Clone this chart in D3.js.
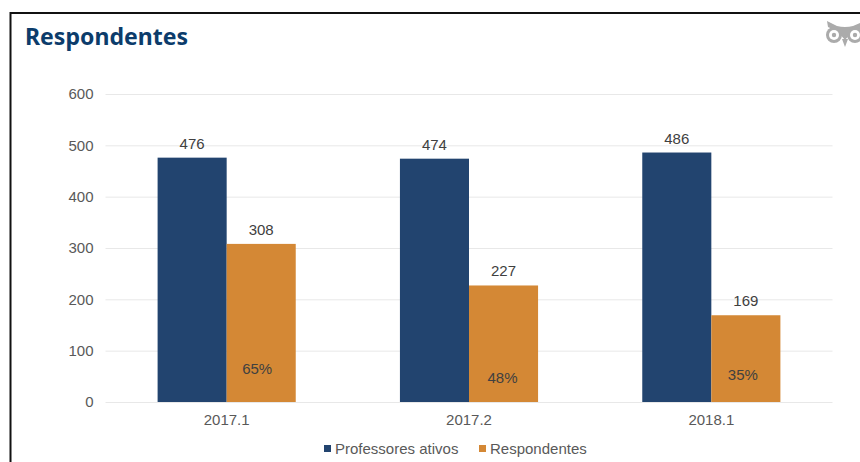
<!DOCTYPE html>
<html lang="pt">
<head>
<meta charset="utf-8">
<title>Respondentes</title>
<script src="https://cdn.jsdelivr.net/npm/d3@7/dist/d3.min.js"></script>
<style>
  html, body { margin: 0; padding: 0; background: #fff; }
  svg { display: block; }
  text { font-family: "Liberation Sans", Arial, sans-serif; }
</style>
</head>
<body>
<svg id="chart" width="860" height="462"></svg>
<script>
const chartTitle = "Respondentes";
const periods = ["2017.1", "2017.2", "2018.1"];
const seriesNames = ["Professores ativos", "Respondentes"];
const activeTeachers = [476, 474, 486];
const respondents = [308, 227, 169];
const shareLabels = ["65%", "48%", "35%"];
const yTicks = [0, 100, 200, 300, 400, 500, 600];

const colors = ["#22446f", "#d48835"];
const inkText = "#595959";
const shareLift = [28, 19, 22];   // height of each share label's baseline above the bar foot
const shareShift = [-4, -1, -3];  // sideways nudge of each share label from the bar centre

const svg = d3.select("#chart");
const margin = { left: 105.5, right: 27.5, top: 94, bottom: 60 };
const width = 860, height = 462;

const x = d3.scaleBand().domain(periods)
  .range([margin.left, width - margin.right]).paddingInner(0.43).paddingOuter(0.215);
const xSeries = d3.scaleBand().domain(seriesNames).range([0, x.bandwidth()]);
const y = d3.scaleLinear().domain([0, 600]).range([height - margin.bottom, margin.top]);

// Panel frame: top and left rules only reach the page edge
svg.append("path")
  .attr("d", d3.line()([[10.5, height], [10.5, 13], [width, 13]]))
  .attr("fill", "none").attr("stroke", "#111").attr("stroke-width", 2);

svg.append("text")
  .attr("x", 25).attr("y", 45)
  .attr("font-size", 24).attr("font-weight", 700)
  .style("font-family", "'Noto Sans', 'Open Sans', sans-serif")
  .attr("textLength", 163).attr("lengthAdjust", "spacingAndGlyphs")
  .attr("fill", "#0c3c6b")
  .text(chartTitle);

// Small owl emblem, cut off by the right edge of the page
const owlInk = "#ababab";
const owl = svg.append("g").attr("fill", owlInk).attr("transform", "translate(826,20)");
owl.append("path").attr("d", "M1,1 L11,6 Q19,8 27,6 L34,3 L34,10 Q26,11 19,20 Q12,11 2,7 Z");
[8, 29].forEach(cx => {
  owl.append("circle").attr("cx", cx).attr("cy", 15).attr("r", 8);
  owl.append("circle").attr("cx", cx).attr("cy", 15).attr("r", 5).attr("fill", "#fff");
  owl.append("circle").attr("cx", cx).attr("cy", 15).attr("r", 2.2);
});
owl.append("path").attr("d", "M16,19 L19,27 L22,19 Z");

// Value axis with full-width gridlines
const yAxis = svg.append("g")
  .attr("transform", `translate(${margin.left},0)`)
  .call(d3.axisLeft(y).tickValues(yTicks).tickFormat(d3.format("d"))
    .tickSize(-(width - margin.left - margin.right)).tickPadding(12));
yAxis.select(".domain").remove();
yAxis.selectAll(".tick line").attr("stroke", "#e8e8e8");
yAxis.selectAll(".tick text").attr("font-size", 15).attr("fill", inkText)
  .style("font-family", "'Liberation Sans', Arial, sans-serif");

// Category axis
const xAxis = svg.append("g")
  .attr("transform", `translate(0,${y(0)})`)
  .call(d3.axisBottom(x).tickSize(0).tickPadding(12));
xAxis.select(".domain").remove();
xAxis.selectAll(".tick text").attr("font-size", 15).attr("fill", inkText)
  .style("font-family", "'Liberation Sans', Arial, sans-serif");

[activeTeachers, respondents].forEach((values, s) => {
  const name = seriesNames[s];
  const rows = periods.map((p, i) => ({ period: p, value: values[i], i }));
  const g = svg.append("g");
  g.selectAll("rect").data(rows).join("rect")
    .attr("x", d => x(d.period) + xSeries(name))
    .attr("y", d => y(d.value))
    .attr("width", xSeries.bandwidth())
    .attr("height", d => y(0) - y(d.value))
    .attr("fill", colors[s]);
  g.selectAll("text").data(rows).join("text")
    .attr("x", d => x(d.period) + xSeries(name) + xSeries.bandwidth() / 2)
    .attr("y", d => y(d.value) - 9)
    .attr("text-anchor", "middle").attr("font-size", 15).attr("fill", "#404040")
    .text(d => d.value);
});

// Response rate printed inside each orange bar
svg.append("g").selectAll("text").data(periods).join("text")
  .attr("x", (p, i) => x(p) + xSeries(seriesNames[1]) + xSeries.bandwidth() / 2 + shareShift[i])
  .attr("y", (p, i) => y(0) - shareLift[i])
  .attr("text-anchor", "middle").attr("font-size", 15).attr("fill", "#404040")
  .text((p, i) => shareLabels[i]);

// Legend
const legendX = [324, 479];
const legend = svg.append("g").selectAll("g").data(seriesNames).join("g")
  .attr("transform", (d, i) => `translate(${legendX[i]},449)`);
legend.append("rect").attr("y", -4).attr("width", 7).attr("height", 7)
  .attr("fill", (d, i) => colors[i]);
legend.append("text").attr("x", 11).attr("y", 5)
  .attr("font-size", 15).attr("fill", inkText).text(d => d);
</script>
</body>
</html>
